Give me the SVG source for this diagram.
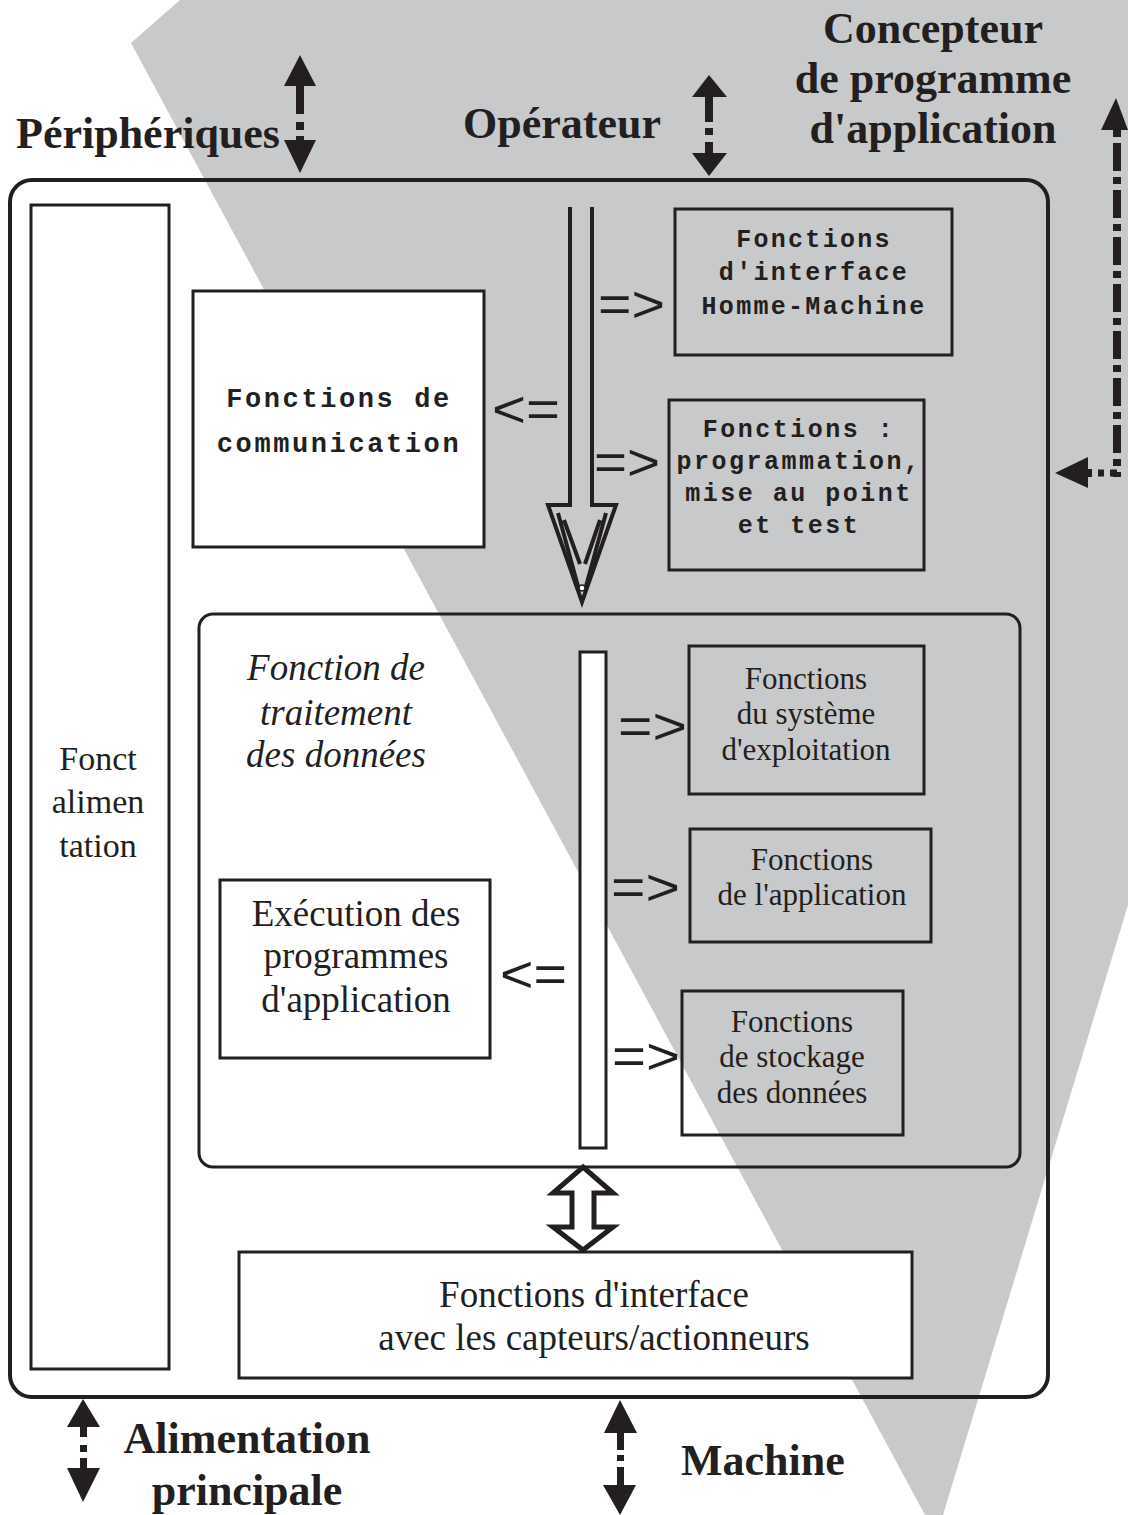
<svg xmlns="http://www.w3.org/2000/svg" width="1128" height="1515" viewBox="0 0 1128 1515">
  <style>
    .box { fill: #ffffff; stroke: #231f20; stroke-width: 3; }
    .open { fill: none; stroke: #231f20; stroke-width: 3; }
    .ink { fill: #231f20; }
    .mono { font-family: "Liberation Mono", "Courier New", monospace; font-weight: bold; fill: #231f20; text-anchor: middle; }
    .serif { font-family: "Liberation Serif", "Times New Roman", serif; fill: #231f20; text-anchor: middle; }
    .label { font-family: "Liberation Serif", "Times New Roman", serif; font-weight: bold; font-size: 44px; fill: #231f20; }
    .sym { font-family: "Liberation Sans", Arial, sans-serif; font-size: 52px; fill: #231f20; }
  </style>

  <rect width="1128" height="1515" fill="#ffffff"/>
  <!-- grey wedge behind the controller -->
  <polygon points="180,0 1128,0 1128,905 943,1515 925,1515 131,43" fill="#c8c9cb"/>

  <!-- outer frame of the controller -->
  <g id="controller">
    <rect x="10" y="180" width="1038" height="1217" rx="22" ry="22" fill="none" stroke="#231f20" stroke-width="4"/>
  </g>

  <g id="alimentation">
    <rect class="box" x="31" y="205" width="138" height="1164"/>
    <text class="serif" font-size="34" x="98" y="770">Fonct</text>
    <text class="serif" font-size="34" x="98" y="813">alimen</text>
    <text class="serif" font-size="34" x="98" y="857">tation</text>
  </g>

  <g id="communication">
    <rect class="box" x="193" y="291" width="291" height="256"/>
    <text class="mono" font-size="27" letter-spacing="2.6" x="339" y="407">Fonctions de</text>
    <text class="mono" font-size="27" letter-spacing="2.6" x="339" y="452">communication</text>
  </g>

  <g id="ihm">
    <rect class="open" x="675" y="209" width="277" height="146"/>
    <text class="mono" font-size="25" letter-spacing="2.3" x="814" y="247">Fonctions</text>
    <text class="mono" font-size="25" letter-spacing="2.3" x="814" y="280">d'interface</text>
    <text class="mono" font-size="25" letter-spacing="2.3" x="814" y="314">Homme-Machine</text>
  </g>

  <g id="programmation">
    <rect class="open" x="669" y="400" width="255" height="170"/>
    <text class="mono" font-size="25" letter-spacing="2.5" x="799" y="437">Fonctions :</text>
    <text class="mono" font-size="25" letter-spacing="2.5" x="799" y="469">programmation,</text>
    <text class="mono" font-size="25" letter-spacing="2.5" x="799" y="501">mise au point</text>
    <text class="mono" font-size="25" letter-spacing="2.5" x="799" y="533">et test</text>
  </g>

  <g id="traitement">
    <rect class="open" x="199" y="614" width="821" height="553" rx="14" ry="14"/>
    <text class="serif" font-size="37" font-style="italic" x="336" y="680">Fonction de</text>
    <text class="serif" font-size="37" font-style="italic" x="336" y="725">traitement</text>
    <text class="serif" font-size="37" font-style="italic" x="336" y="767">des données</text>
  </g>

  <g id="bus">
    <rect class="box" x="580" y="652" width="26" height="496"/>
  </g>

  <g id="execution">
    <rect class="box" x="220" y="880" width="270" height="178"/>
    <text class="serif" font-size="37" x="356" y="926">Exécution des</text>
    <text class="serif" font-size="37" x="356" y="968">programmes</text>
    <text class="serif" font-size="37" x="356" y="1012">d'application</text>
  </g>

  <g id="exploitation">
    <rect class="open" x="689" y="646" width="235" height="148"/>
    <text class="serif" font-size="31" x="806" y="689">Fonctions</text>
    <text class="serif" font-size="31" x="806" y="724">du système</text>
    <text class="serif" font-size="31" x="806" y="760">d'exploitation</text>
  </g>

  <g id="application">
    <rect class="open" x="690" y="829" width="241" height="113"/>
    <text class="serif" font-size="31" x="812" y="870">Fonctions</text>
    <text class="serif" font-size="31" x="812" y="905">de l'application</text>
  </g>

  <g id="stockage">
    <rect class="open" x="682" y="991" width="221" height="144"/>
    <text class="serif" font-size="31" x="792" y="1032">Fonctions</text>
    <text class="serif" font-size="31" x="792" y="1067">de stockage</text>
    <text class="serif" font-size="31" x="792" y="1103">des données</text>
  </g>

  <g id="capteurs">
    <rect class="box" x="239" y="1252" width="673" height="126"/>
    <text class="serif" font-size="37" x="594" y="1307">Fonctions d'interface</text>
    <text class="serif" font-size="37" x="594" y="1350">avec les capteurs/actionneurs</text>
  </g>

  <!-- external actors -->
  <g id="peripheriques">
    <text class="label" x="16" y="148">Périphériques</text>
  </g>
  <g id="operateur">
    <text class="label" x="463" y="138">Opérateur</text>
  </g>
  <g id="concepteur">
    <text class="label" x="933" y="43" text-anchor="middle">Concepteur</text>
    <text class="label" x="933" y="93" text-anchor="middle">de programme</text>
    <text class="label" x="933" y="143" text-anchor="middle">d'application</text>
  </g>
  <g id="alimentation-principale">
    <text class="label" x="247" y="1453" text-anchor="middle">Alimentation</text>
    <text class="label" x="247" y="1505" text-anchor="middle">principale</text>
  </g>
  <g id="machine">
    <text class="label" x="681" y="1475">Machine</text>
  </g>

  <g id="connectors">
    <!-- Périphériques link -->
    <polygon class="ink" points="300,55 316,86 284,86"/>
    <rect class="ink" x="296" y="86" width="8" height="28"/>
    <rect class="ink" x="296" y="122" width="8" height="8"/>
    <rect class="ink" x="296" y="136" width="8" height="6"/>
    <polygon class="ink" points="284,140 316,140 300,173"/>

    <!-- Opérateur link -->
    <polygon class="ink" points="709,75 727,97 692,97"/>
    <rect class="ink" x="705" y="96" width="8" height="26"/>
    <rect class="ink" x="705" y="128" width="8" height="7"/>
    <rect class="ink" x="705" y="142" width="8" height="12"/>
    <polygon class="ink" points="692,153 727,153 709,176"/>

    <!-- Concepteur link (dash-dot) -->
    <polygon class="ink" points="1116,98 1128,130 1101,130"/>
    <line x1="1117" y1="130" x2="1117" y2="477" stroke="#231f20" stroke-width="8" stroke-dasharray="7 6 28 6"/>
    <line x1="1117" y1="473" x2="1098" y2="473" stroke="#231f20" stroke-width="7" stroke-dasharray="7 6"/>
    <rect class="ink" x="1086" y="469" width="6" height="8"/>
    <polygon class="ink" points="1055,473 1088,457 1088,488"/>

    <!-- Alimentation principale link -->
    <polygon class="ink" points="83,1399 100,1427 67,1427"/>
    <rect class="ink" x="80" y="1426" width="7" height="11"/>
    <rect class="ink" x="80" y="1445" width="7" height="7"/>
    <rect class="ink" x="80" y="1458" width="7" height="11"/>
    <polygon class="ink" points="67,1468 100,1468 83,1502"/>

    <!-- Machine link -->
    <polygon class="ink" points="620,1400 637,1433 604,1433"/>
    <rect class="ink" x="617" y="1432" width="7" height="18"/>
    <rect class="ink" x="617" y="1455" width="7" height="6"/>
    <rect class="ink" x="617" y="1467" width="7" height="19"/>
    <polygon class="ink" points="603,1485 636,1485 620,1515"/>

    <!-- hollow arrow from the operator side down into processing -->
    <path d="M570,207 V505 H548 L582,602 L616,505 H592 V207" fill="none" stroke="#231f20" stroke-width="4" stroke-linejoin="miter"/>
    <path d="M564,520 L580,564 M600,520 L585,564 M558,513 L579,590 M606,513 L585,590" fill="none" stroke="#231f20" stroke-width="4"/>
    <circle cx="582" cy="588" r="3" fill="#ffffff" stroke="#231f20" stroke-width="1.5"/>

    <!-- hollow double arrow between processing and I/O -->
    <path d="M583,1167 L613,1193 H594 V1227 H613 L583,1250 L553,1227 H572 V1193 H553 Z" fill="#ffffff" stroke="#231f20" stroke-width="5" stroke-linejoin="miter"/>

    <!-- direction symbols -->
    <text class="sym" x="598" y="322" textLength="67" lengthAdjust="spacingAndGlyphs">=&gt;</text>
    <text class="sym" x="492" y="427" textLength="68" lengthAdjust="spacingAndGlyphs">&lt;=</text>
    <text class="sym" x="594" y="480" textLength="66" lengthAdjust="spacingAndGlyphs">=&gt;</text>
    <text class="sym" x="618" y="744" textLength="69" lengthAdjust="spacingAndGlyphs">=&gt;</text>
    <text class="sym" x="611" y="905" textLength="69" lengthAdjust="spacingAndGlyphs">=&gt;</text>
    <text class="sym" x="500" y="992" textLength="67" lengthAdjust="spacingAndGlyphs">&lt;=</text>
    <text class="sym" x="612" y="1074" textLength="68" lengthAdjust="spacingAndGlyphs">=&gt;</text>
  </g>
</svg>
